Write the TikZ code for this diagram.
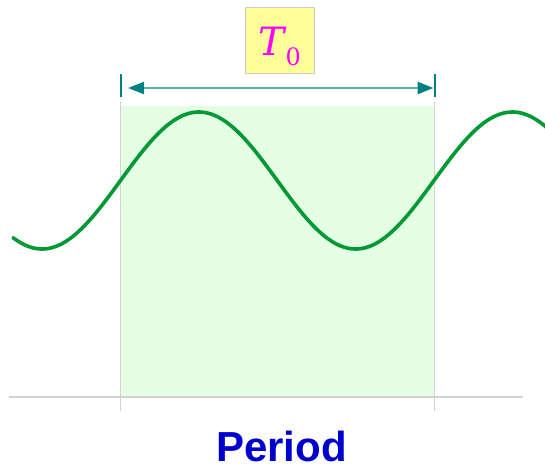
\documentclass[tikz,border=0pt]{standalone}
\usepackage{fontspec}
\setmainfont{Liberation Sans}
\newfontfamily\dvserif{DejaVu Serif}
\usetikzlibrary{arrows.meta}
\definecolor{wavegreen}{RGB}{0,153,51}
\definecolor{shadegreen}{RGB}{229,255,229}
\definecolor{gridgrey}{RGB}{210,210,210}
\definecolor{tealdark}{RGB}{0,128,128}
\definecolor{teallight}{RGB}{95,172,172}
\definecolor{boxyellow}{RGB}{255,255,153}
\definecolor{boxedge}{RGB}{205,205,205}
\definecolor{periodblue}{RGB}{0,0,204}
\definecolor{tmagenta}{RGB}{255,0,255}
\begin{document}
\begin{tikzpicture}[x=1pt,y=-1pt,
  gridline/.style={gridgrey, line width=1.5pt},
  tickline/.style={tealdark, line width=2pt},
  wavecurve/.style={wavegreen, line width=3.6pt, line cap=round, line join=round},
  spanarrow/.style={teallight, line width=2pt,
    {Triangle[length=16pt,width=12pt,color=tealdark]}-{Triangle[length=16pt,width=12pt,color=tealdark]}},
  labelbox/.style={draw=boxedge, fill=boxyellow, line width=1pt, minimum width=69pt, minimum height=66pt, inner sep=0pt},
]
\useasboundingbox (0,0) rectangle (545,464);
% shaded period
\fill[shadegreen] (120.5,106) rectangle (434.5,397);
% axis and guides
\draw[gridline] (9,397) -- (523,397);
\draw[gridline] (120.5,102) -- (120.5,411);
\draw[gridline] (434.5,102) -- (434.5,411);
% wave
\draw[wavecurve, domain=13:550, samples=240, smooth] plot (\x, {180.5 - 68.5*sin(1.148325*(\x-120.5))});
% ticks
\coordinate (tickLtop) at (120.5,74);
\coordinate (tickLbot) at (120.5,97);
\coordinate (tickRtop) at (434.5,74);
\coordinate (tickRbot) at (434.5,97);
\draw[tickline] (tickLtop) -- (tickLbot);
\draw[tickline] (tickRtop) -- (tickRbot);
% span arrow
\coordinate (spanL) at (128,88);
\coordinate (spanR) at (433.5,88);
\draw[spanarrow] (spanL) -- (spanR);
% label
\node[labelbox] (label) at (279.5,40) {};
\node[anchor=base west, inner sep=0pt, text=tmagenta] (tlabel) at (258,55.5)
  {{\dvserif\fontsize{39}{39}\selectfont\itshape T}\hspace{1.5pt}\raisebox{-10pt}{\dvserif\fontsize{24}{24}\selectfont 0}};
% title
\node[anchor=base, inner sep=0pt, text=periodblue, font=\bfseries\fontsize{42}{42}\selectfont] (period) at (281.5,461) {Period};
\end{tikzpicture}
\end{document}
